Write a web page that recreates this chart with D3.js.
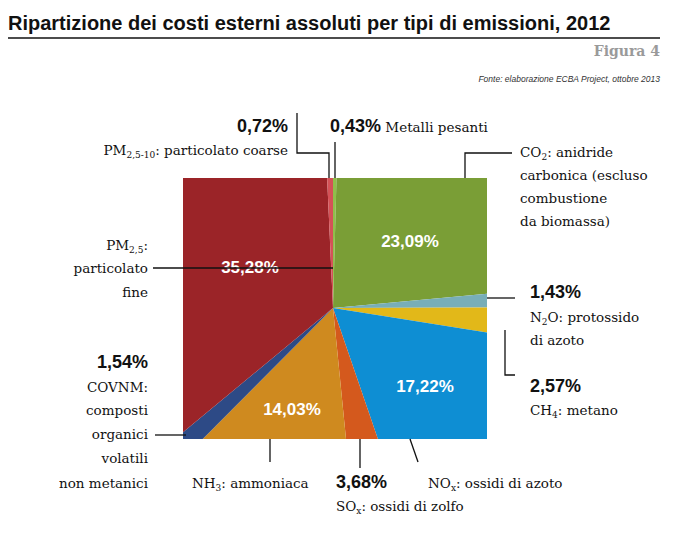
<!DOCTYPE html>
<html><head><meta charset="utf-8">
<script src="https://cdn.jsdelivr.net/npm/d3@7"></script>
<style>body{margin:0;background:#fff}</style>
</head><body><svg id="chart"></svg>
<script>
var svgWidth = 677, svgHeight = 536;

// slices, clockwise from the top
var data = [
  {name:"Metalli pesanti", v:0.43, c:"#8fbf4a"},
  {name:"CO2", v:23.09, c:"#7a9e36"},
  {name:"N2O", v:1.43, c:"#78aeb8"},
  {name:"CH4", v:2.57, c:"#e2b819"},
  {name:"NOx", v:17.22, c:"#0e8ed3"},
  {name:"SOx", v:3.68, c:"#d4591d"},
  {name:"NH3", v:14.03, c:"#cf8a1f"},
  {name:"COVNM", v:1.54, c:"#2d4a86"},
  {name:"PM2.5", v:35.28, c:"#9b2428"},
  {name:"PM2.5-10", v:0.72, c:"#d45257"}
];
var cx = 333, cy = 308;
var box = {x0:183, y0:178, x1:487, y1:439};

var svg = d3.select("#chart").attr("width", svgWidth).attr("height", svgHeight);

svg.append("text").attr("x",8).attr("y",30).attr("font-family","Liberation Sans, Arial").attr("font-weight","bold")
  .attr("font-size",20).attr("fill","#111").text("Ripartizione dei costi esterni assoluti per tipi di emissioni, 2012");
svg.append("line").attr("x1",8).attr("x2",660).attr("y1",38).attr("y2",38).attr("stroke","#111").attr("stroke-width",1.5);
svg.append("text").attr("x",660).attr("y",56).attr("text-anchor","end").attr("font-family","DejaVu Serif").attr("font-weight","bold")
  .attr("font-size",14).attr("fill","#9a9a9a").text("Figura 4");
svg.append("text").attr("x",660).attr("y",82).attr("text-anchor","end").attr("font-family","Liberation Sans").attr("font-style","italic")
  .attr("font-size",8.5).attr("fill","#333").text("Fonte: elaborazione ECBA Project, ottobre 2013");

svg.append("clipPath").attr("id","clip").append("rect")
  .attr("x",box.x0).attr("y",box.y0).attr("width",box.x1-box.x0).attr("height",box.y1-box.y0);

var pie = d3.pie().sort(null).value(function(d){return d.v;});
var arc = d3.arc().innerRadius(0).outerRadius(400);

svg.append("g").attr("clip-path","url(#clip)")
  .append("g").attr("transform","translate("+cx+","+cy+")")
  .selectAll("path").data(pie(data)).enter().append("path")
  .attr("d", arc).attr("fill", function(d){return d.data.c;});

// inner percent labels
var inner = [["23,09%",410,247],["35,28%",250,273],["17,22%",425,392],["14,03%",292,415]];
svg.selectAll("text.in").data(inner).enter().append("text")
  .attr("x",function(d){return d[1];}).attr("y",function(d){return d[2];})
  .attr("text-anchor","middle").attr("font-family","Liberation Sans").attr("font-weight","bold")
  .attr("font-size",17).attr("fill","#fff").text(function(d){return d[0];});

// leader lines
var lines = [
  [[297,113],[297,153],[329,153],[329,178]],
  [[335,142],[335,178]],
  [[465,178],[465,153],[512,153]],
  [[153,268],[333,268]],
  [[487,298],[515,298]],
  [[505,330],[505,375],[515,375]],
  [[155,435],[186,435]],
  [[270,439],[270,462]],
  [[360,439],[360,468]],
  [[410,439],[418,462]]
];
svg.selectAll("path.ld").data(lines).enter().append("path")
  .attr("d", d3.line()).attr("fill","none").attr("stroke","#111").attr("stroke-width",1.3);

function lbl(x,y,anchor,parts,size){
  var t = svg.append("text").attr("x",x).attr("y",y).attr("text-anchor",anchor)
    .attr("font-family","DejaVu Serif").attr("font-size",size||13.5).attr("fill","#111");
  parts.forEach(function(p){
    var s = t.append("tspan").text(p[0]);
    if (p[1]=="sub") s.attr("font-size",9).attr("dy",3);
    if (p[1]=="back") s.attr("dy",-3);
    if (p[1]=="bold") s.attr("font-family","Liberation Sans").attr("font-weight","bold").attr("font-size",18);
  });
}
lbl(288,132,"end",[["0,72%","bold"]]);
lbl(288,155,"end",[["PM"],["2,5-10","sub"],[": particolato coarse","back"]]);
lbl(330,132,"start",[["0,43%","bold"],[" Metalli pesanti"]]);
lbl(520,157,"start",[["CO"],["2","sub"],[": anidride","back"]]);
lbl(520,180,"start",[["carbonica (escluso"]]);
lbl(520,203,"start",[["combustione"]]);
lbl(520,226,"start",[["da biomassa)"]]);
lbl(148,250,"end",[["PM"],["2,5","sub"],[":","back"]]);
lbl(148,273,"end",[["particolato"]]);
lbl(148,297,"end",[["fine"]]);
lbl(530,298,"start",[["1,43%","bold"]]);
lbl(530,322,"start",[["N"],["2","sub"],["O: protossido","back"]]);
lbl(530,345,"start",[["di azoto"]]);
lbl(530,392,"start",[["2,57%","bold"]]);
lbl(530,415,"start",[["CH"],["4","sub"],[": metano","back"]]);
lbl(148,368,"end",[["1,54%","bold"]]);
lbl(148,392,"end",[["COVNM:"]]);
lbl(148,415,"end",[["composti"]]);
lbl(148,439,"end",[["organici"]]);
lbl(148,463,"end",[["volatili"]]);
lbl(148,488,"end",[["non metanici"]]);
lbl(192,488,"start",[["NH"],["3","sub"],[": ammoniaca","back"]]);
lbl(336,488,"start",[["3,68%","bold"]]);
lbl(336,511,"start",[["SO"],["x","sub"],[": ossidi di zolfo","back"]]);
lbl(428,488,"start",[["NO"],["x","sub"],[": ossidi di azoto","back"]]);
</script></body></html>
